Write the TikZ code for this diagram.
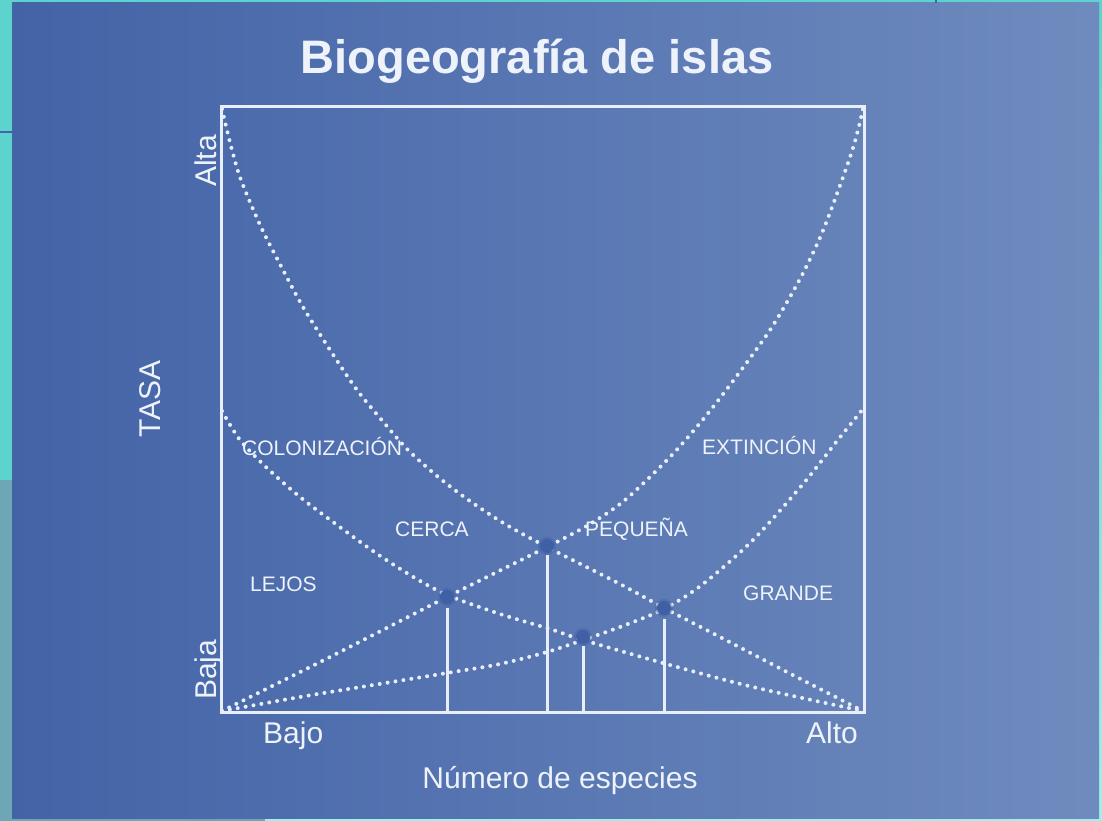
\documentclass[tikz,border=0pt]{standalone}
\usepackage{fontspec}
\setmainfont{Liberation Sans}
\definecolor{panelLeft}{HTML}{4363A7}
\definecolor{panelRight}{HTML}{6F8BBE}
\definecolor{frameTeal}{HTML}{5DD3CE}
\definecolor{frameGrey}{HTML}{6DA7B6}
\definecolor{frameLight}{HTML}{A3EEEB}
\definecolor{lineWhite}{HTML}{E8EFFA}
\definecolor{textWhite}{HTML}{EEF3FB}
\definecolor{dotBlue}{HTML}{3F60A4}

\begin{document}
\begin{tikzpicture}[
        x=1pt, y=-1pt,
        axisLine/.style={draw=lineWhite, line width=3pt},
        rateCurve/.style={draw=lineWhite, line width=4pt, line cap=round, dash pattern=on 0pt off 8pt},
        dropLine/.style={draw=lineWhite, line width=3pt},
        eqDot/.style={circle, fill=dotBlue, draw=dotBlue, draw opacity=0.4, line width=4pt, minimum size=14pt, inner sep=0pt},
        axisLabel/.style={text=textWhite, font=\fontsize{30}{36}\selectfont, inner sep=0pt},
        curveLabel/.style={text=textWhite, font=\fontsize{21}{25}\selectfont, inner sep=0pt, anchor=base west},
        titleText/.style={text=textWhite, font=\fontsize{47}{56}\selectfont\bfseries, inner sep=0pt}
    ]
        \useasboundingbox (0,0) rectangle (1102,821);

        % Frame and background
        \fill[frameTeal] (0,0) rectangle (1102,821);
        \fill[frameGrey] (0,480) rectangle (12,821);
        \fill[frameGrey] (0,818) rectangle (265,821);
        \fill[frameLight] (265,818) rectangle (1102,821);
        \shade[top color=frameTeal, bottom color=frameLight] (1099,0) rectangle (1102,818);
        \shade[left color=panelLeft, right color=panelRight] (12,3) rectangle (1099,818);
        \draw[panelLeft, line width=1.5pt] (0,132) -- (12,132);
        \draw[panelLeft, line width=1.5pt] (936,0) -- (936,3);

        % Axes
        \coordinate (origin) at (221,712);
        \coordinate (topRight) at (864,107);
        \draw[axisLine] (origin) rectangle (topRight);

        % Colonization: near island
        \draw[rateCurve] plot[smooth] coordinates {(222,109) (226,126) (232,150) (241,180) (261,227) (282,268) (303,307) (332,353) (357,390) (380,418) (407,449) (437,476) (467,499) (505,524) (547,547) (620,584) (664,608) (720,637) (787,672) (863,711)};
        % Colonization: far island
        \draw[rateCurve] plot[smooth] coordinates {(222,411) (240,440) (267,468) (300,497) (333,522) (373,551) (410,575) (447,595) (500,614) (550,629) (583,640) (670,665) (753,687) (863,711)};

        % Extinction: small island
        \draw[rateCurve] plot[smooth] coordinates {(222,711) (330,657) (447,597) (547,547) (590,524) (625,500) (670,457) (705,417) (739,373) (772,327) (801,277) (822,233) (842,180) (853,148) (859,126) (863,109)};
        % Extinction: large island
        \draw[rateCurve] plot[smooth] coordinates {(222,711) (300,697) (367,686) (447,673) (500,664) (547,652) (583,640) (620,627) (664,609) (703,584) (753,540) (803,484) (837,441) (863,409)};

        % Equilibrium points
        \node[eqDot] (farSmall) at (447,597) {};
        \node[eqDot] (nearSmall) at (547,546) {};
        \node[eqDot] (farLarge) at (583,637) {};
        \node[eqDot] (nearLarge) at (664,608) {};

        % Drop lines to the axis
        \draw[dropLine] ([yshift=-2pt]farSmall.south) -- (farSmall |- origin);
        \draw[dropLine] (nearSmall.south) -- (nearSmall |- origin);
        \draw[dropLine] (farLarge.south) -- (farLarge |- origin);
        \draw[dropLine] ([yshift=-2pt]nearLarge.south) -- (nearLarge |- origin);

        % Title
        \node[titleText, anchor=base] (title) at (537,74) {Biogeografía de islas};

        % Axis labels
        \node[axisLabel, rotate=90] (tasa) at (150,399) {TASA};
        \node[axisLabel, rotate=90, anchor=base west] (alta) at (216,187) {Alta};
        \node[axisLabel, rotate=90, anchor=base west] (baja) at (216,700) {Baja};
        \node[axisLabel, anchor=base west] (bajo) at (263,743) {Bajo};
        \node[axisLabel, anchor=base east] (alto) at (858,743) {Alto};
        \node[axisLabel, anchor=base] (especies) at (560,788) {Número de especies};

        % Curve labels
        \node[curveLabel] (colonizacion) at (242,455) {COLONIZACIÓN};
        \node[curveLabel] (extincion) at (702,454) {EXTINCIÓN};
        \node[curveLabel] (cerca) at (395,536) {CERCA};
        \node[curveLabel] (pequena) at (585,536) {PEQUEÑA};
        \node[curveLabel] (lejos) at (250,591) {LEJOS};
        \node[curveLabel] (grande) at (743,600) {GRANDE};
    \end{tikzpicture}
\end{document}
